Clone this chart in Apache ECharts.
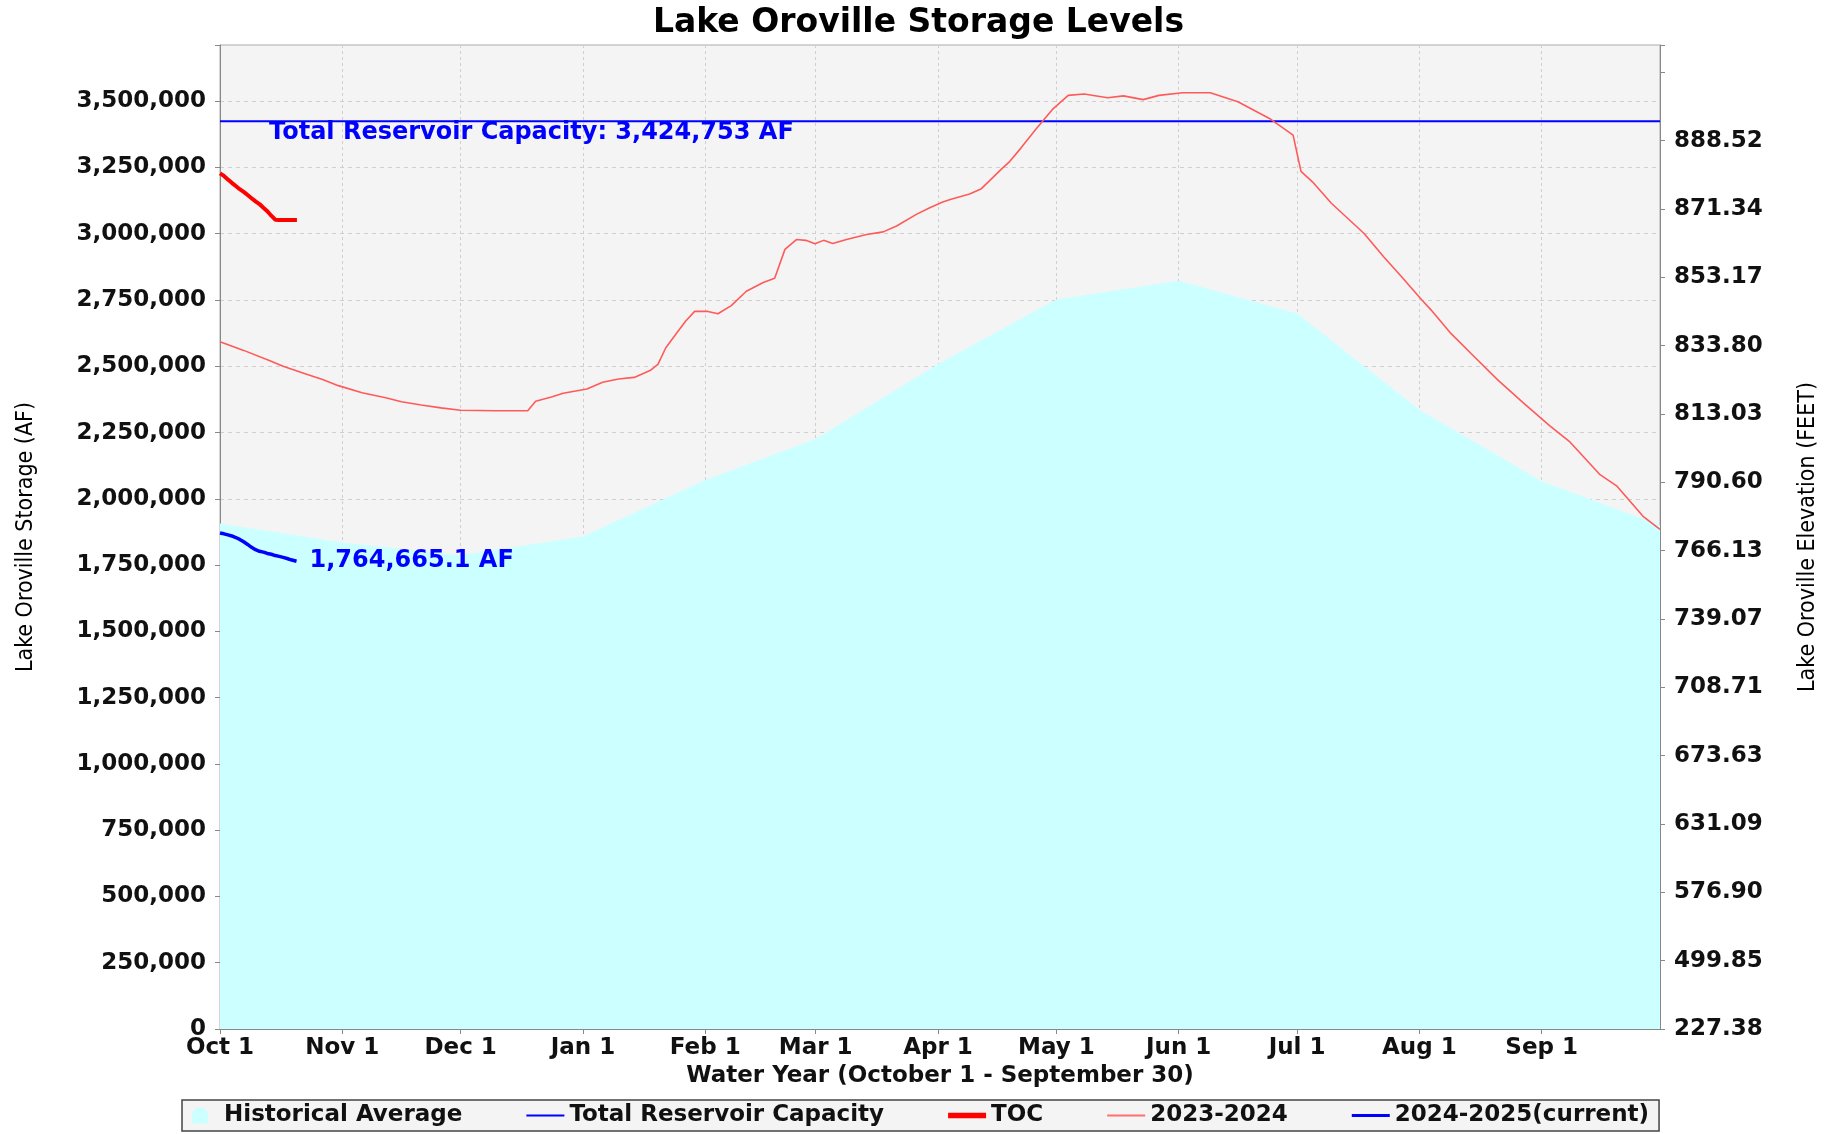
<!DOCTYPE html>
<html>
<head>
<meta charset="utf-8">
<title>Lake Oroville Storage Levels</title>
<script src="https://cdn.jsdelivr.net/npm/echarts@6/dist/echarts.min.js"></script>
<style>
  html, body { margin: 0; padding: 0; background: #fff; }
  #chart { width: 1837px; height: 1134px; }
</style>
</head>
<body>
<div id="chart"></div>
<script>
// x = day of the water year (0 = Oct 1)
const monthDays = [0, 31, 61, 92, 123, 151, 182, 212, 243, 273, 304, 335];
const monthLabels = ['Oct 1', 'Nov 1', 'Dec 1', 'Jan 1', 'Feb 1', 'Mar 1', 'Apr 1', 'May 1', 'Jun 1', 'Jul 1', 'Aug 1', 'Sep 1'];

// right axis: elevation labels, one per evenly spaced tick
const elevationLabels = ['227.38', '499.85', '576.90', '631.09', '673.63', '708.71', '739.07', '766.13',
  '790.60', '813.03', '833.80', '853.17', '871.34', '888.52', ''];

const capacity = 3424753;

const historicalAverage = [
  [0, 1907000], [31, 1835000], [61, 1787000], [92, 1858000], [123, 2071000], [151, 2226000],
  [182, 2509000], [212, 2752000], [243, 2823000], [273, 2699000], [304, 2336000], [335, 2066000], [365, 1900000]
];

const storage2324 = [
  [0, 2593000], [6, 2560000], [12.5, 2522000], [16, 2500000], [21, 2475000], [26, 2450000], [30, 2427000],
  [36, 2400000], [42, 2381000], [46, 2366000], [51, 2354000], [56, 2343000], [61, 2334000], [70, 2332000],
  [78, 2332000], [80, 2368000], [84, 2384000], [87, 2398000], [93, 2414000], [97, 2440000], [101, 2452000],
  [105, 2458000], [109, 2484000], [111, 2507000], [113, 2570000], [116, 2630000], [118, 2670000], [120.3, 2707000],
  [123.7, 2707000], [126.2, 2698000], [129.6, 2729000], [133.4, 2783000], [137.7, 2816000], [140.6, 2832000],
  [143.2, 2941000], [146.1, 2978000], [148.5, 2975000], [150.8, 2962000], [153, 2975000], [155.3, 2963000],
  [158.8, 2978000], [163.9, 2997000], [168.1, 3007000], [171.5, 3029000], [176.5, 3073000], [179.9, 3098000],
  [183.2, 3120000], [185.3, 3130000], [190, 3150000], [193, 3170000], [198, 3243000], [200, 3270000],
  [203, 3323000], [207, 3398000], [211, 3469000], [215, 3522000], [219, 3527000], [225, 3513000], [229, 3520000],
  [234, 3506000], [238, 3522000], [244, 3532000], [251, 3532000], [258, 3498000], [266, 3435000], [272, 3372000],
  [274, 3235000], [276.9, 3196000], [281.7, 3115000], [290, 3001000], [295, 2912000], [299.5, 2838000],
  [304.3, 2756000], [307, 2712000], [312, 2624000], [318, 2535000], [324, 2447000], [330, 2367000],
  [337, 2276000], [342, 2217000], [349.8, 2091000], [354, 2049000], [360.7, 1934000], [365, 1885000]
];

const toc = [
  [0, 3228000], [1, 3218000], [2, 3205000], [3, 3192000], [4, 3180000], [5, 3168000], [6, 3158000],
  [7, 3146000], [8, 3134000], [9, 3122000], [10, 3112000], [11, 3098000], [12, 3085000], [13, 3068000],
  [14, 3053000], [15, 3052000], [16, 3052000], [17, 3052000], [18, 3052000], [19.5, 3052000]
];

const storage2425 = [
  [0, 1871000], [1, 1868000], [2, 1864000], [3, 1860000], [4, 1854000], [5, 1847000], [6, 1838000],
  [7, 1828000], [8, 1817000], [9, 1808000], [10, 1802000], [11, 1799000], [12, 1794000], [13, 1791000],
  [14, 1786000], [15, 1783000], [16, 1779000], [17, 1775000], [18, 1770000], [19.4, 1764665.1]
];

const FONT = 'DejaVu Sans';
const NARROW = "'Liberation Sans Narrow', 'DejaVu Sans Condensed', sans-serif";
const fmt = v => v.toLocaleString('en-US');

// plain line icons for the legend (no symbol dot)
const thinLine = 'path://M0,0 L38,0 L38,2 L0,2 Z';
const thickLine = 'path://M0,0 L28,0 L28,4 L0,4 Z';
const midLine = 'path://M0,0 L38,0 L38,3 L0,3 Z';

const chart = echarts.init(document.getElementById('chart'));

const option = {
  animation: false,
  backgroundColor: '#fff',
  title: {
    text: 'Lake Oroville Storage Levels',
    left: 'center',
    top: 2,
    textStyle: { fontFamily: FONT, fontSize: 33, fontWeight: 'bold', color: '#000' }
  },
  legend: {
    left: 182,
    top: 1100,
    padding: [4, 10],
    itemGap: 64,
    itemWidth: 38,
    itemHeight: 16,
    backgroundColor: '#f4f4f4',
    borderColor: '#444',
    borderWidth: 1.5,
    borderRadius: 0,
    textStyle: { fontFamily: FONT, fontSize: 23, fontWeight: 'bold', color: '#111' },
    data: [
      { name: 'Historical Average', icon: 'path://M0,10 C0,3 3,0 8,0 C13,0 16,3 16,10 L16,16 L0,16 Z' },
      { name: 'Total Reservoir Capacity', icon: thinLine },
      { name: 'TOC', icon: thickLine },
      { name: '2023-2024', icon: thinLine },
      { name: '2024-2025(current)', icon: midLine }
    ]
  },
  grid: {
    left: 220,
    right: 177,
    top: 45,
    bottom: 105,
    show: true,
    backgroundColor: '#f4f4f4',
    borderColor: '#aaa',
    borderWidth: 1
  },
  xAxis: {
    type: 'value',
    min: 0,
    max: 365,
    name: 'Water Year (October 1 - September 30)',
    nameLocation: 'middle',
    nameGap: 33,
    nameTextStyle: { fontFamily: FONT, fontSize: 23, fontWeight: 'bold', color: '#111' },
    axisLine: { lineStyle: { color: '#888' } },
    axisTick: { customValues: monthDays, length: 5, lineStyle: { color: '#888' } },
    axisLabel: {
      customValues: monthDays,
      formatter: v => monthLabels[monthDays.indexOf(v)] || '',
      margin: 8,
      fontFamily: FONT, fontSize: 23, fontWeight: 'bold', color: '#111'
    },
    splitLine: { show: true, lineStyle: { color: '#cfcfcf', type: [3, 3], width: 1 } }
  },
  yAxis: [
    {
      type: 'value',
      min: 0,
      max: 3712000,
      interval: 250000,
      name: 'Lake Oroville Storage (AF)',
      nameLocation: 'middle',
      nameRotate: 90,
      nameGap: 182,
      nameTextStyle: { fontFamily: NARROW, fontSize: 23, color: '#000' },
      axisLine: { show: true, lineStyle: { color: '#888' } },
      axisTick: { show: true, length: 5, lineStyle: { color: '#888' } },
      axisLabel: {
        formatter: v => (v % 250000 === 0 ? fmt(v) : ''),
        margin: 14,
        fontFamily: FONT, fontSize: 23, fontWeight: 'bold', color: '#111'
      },
      splitLine: { show: true, lineStyle: { color: '#cfcfcf', type: [4, 4], width: 1 } }
    },
    {
      type: 'value',
      min: 0,
      max: 14.4,
      interval: 1,
      position: 'right',
      name: 'Lake Oroville Elevation (FEET)',
      nameLocation: 'middle',
      nameRotate: 90,
      nameGap: 137,
      nameTextStyle: { fontFamily: NARROW, fontSize: 23, color: '#000' },
      axisLine: { show: true, lineStyle: { color: '#888' } },
      axisTick: { show: true, length: 5, lineStyle: { color: '#888' } },
      axisLabel: {
        formatter: v => (Number.isInteger(v) ? (elevationLabels[v] || '') : ''),
        margin: 14,
        fontFamily: FONT, fontSize: 23, fontWeight: 'bold', color: '#111'
      },
      splitLine: { show: false }
    }
  ],
  series: [
    {
      name: 'Historical Average',
      type: 'line',
      data: historicalAverage,
      symbol: 'none',
      lineStyle: { width: 0 },
      itemStyle: { color: '#ccffff' },
      areaStyle: { color: '#ccffff', opacity: 1 },
      z: 1
    },
    {
      name: 'Total Reservoir Capacity',
      type: 'line',
      // drawn right-to-left so the end label sits at the left edge
      data: [[365, capacity], [0, capacity]],
      symbol: 'none',
      lineStyle: { color: '#0000ff', width: 2 },
      itemStyle: { color: '#0000ff' },
      endLabel: {
        show: true,
        distance: 49,
        verticalAlign: 'top',
        formatter: () => 'Total Reservoir Capacity: ' + fmt(capacity) + ' AF',
        fontFamily: FONT, fontSize: 24, fontWeight: 'bold', color: '#0000ff'
      },
      z: 2
    },
    {
      name: 'TOC',
      type: 'line',
      data: toc,
      symbol: 'none',
      lineStyle: { color: '#ff0000', width: 4 },
      itemStyle: { color: '#ff0000' },
      z: 3
    },
    {
      name: '2023-2024',
      type: 'line',
      data: storage2324,
      symbol: 'none',
      lineStyle: { color: '#ff5a5a', width: 1.6 },
      itemStyle: { color: '#ff6f6f' },
      z: 3
    },
    {
      name: '2024-2025(current)',
      type: 'line',
      data: storage2425,
      symbol: 'none',
      lineStyle: { color: '#0000ff', width: 3.5 },
      itemStyle: { color: '#0000ff' },
      endLabel: {
        show: true,
        distance: 13,
        formatter: p => fmt(p.value[1]) + ' AF',
        fontFamily: FONT, fontSize: 24, fontWeight: 'bold', color: '#0000ff'
      },
      z: 4
    }
  ]
};

chart.setOption(option);
</script>
</body>
</html>
